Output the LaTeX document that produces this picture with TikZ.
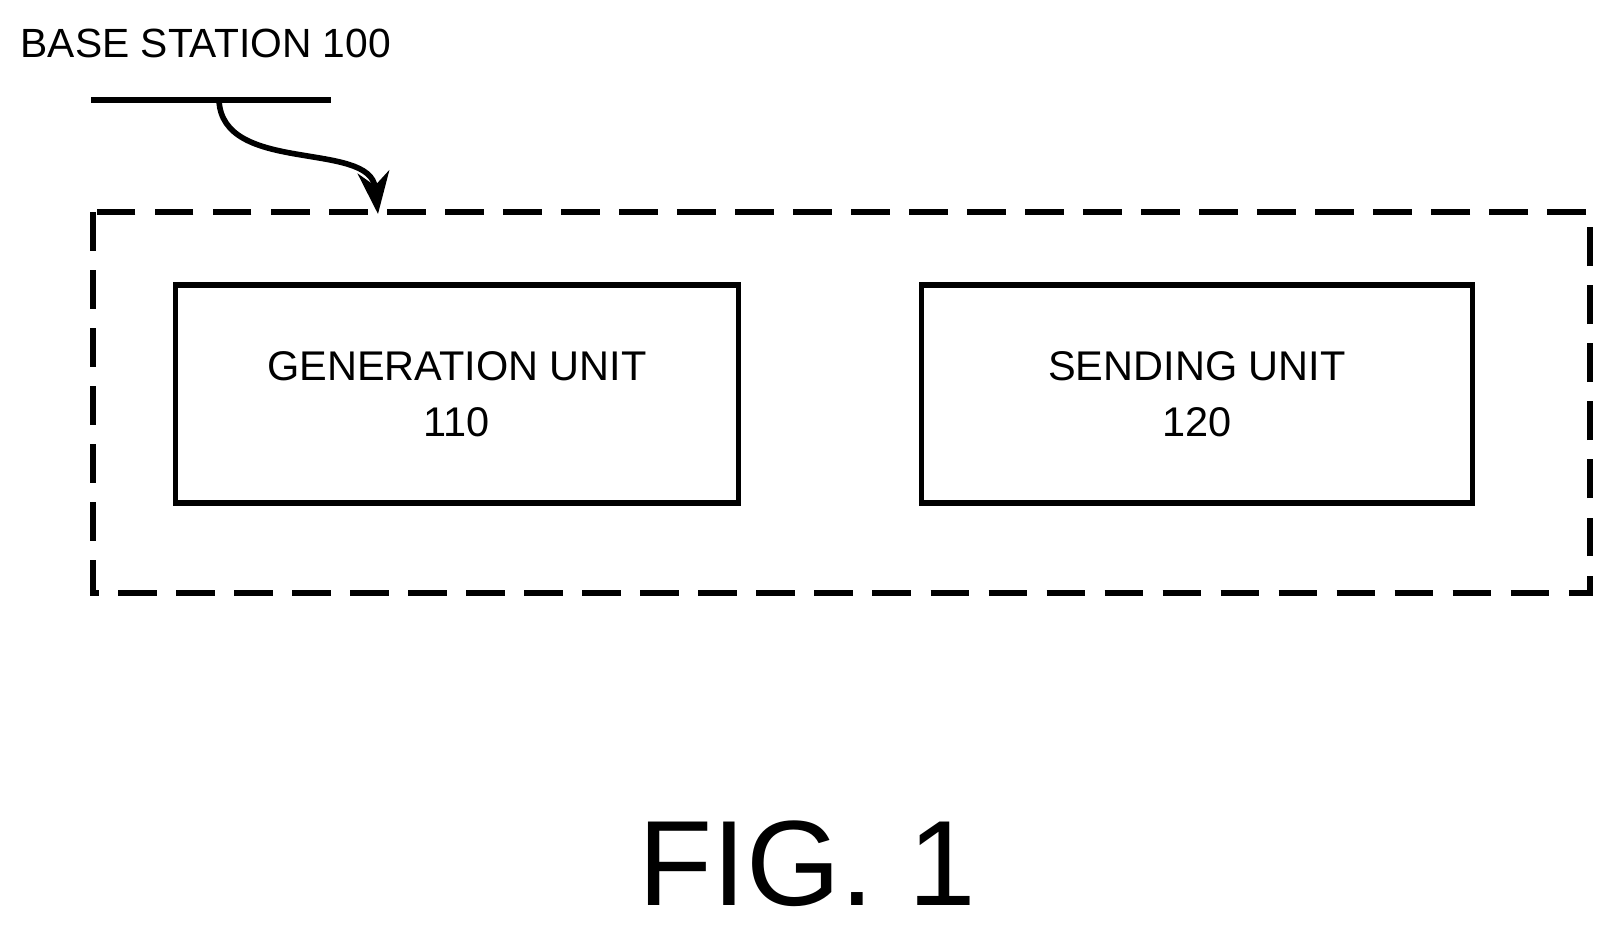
\documentclass[tikz,border=0pt]{standalone}
\usepackage{fontspec}
\setmainfont{Liberation Sans}
\usetikzlibrary{arrows.meta}
\begin{document}
\begin{tikzpicture}[x=0.01cm,y=-0.01cm,
  unit/.style={draw,line width=1.6pt,minimum height=218*0.01cm,align=center,font=\fontsize{11.8}{16}\selectfont},
  lbl/.style={font=\fontsize{11.6}{14}\selectfont}]
\useasboundingbox (0,0) rectangle (1614,942);
\draw[line width=1.6pt,dash pattern=on 11pt off 5.5pt] (93,212) rectangle (1590,593);
\node[unit,minimum width=563*0.01cm] (gen) at (457,394) {GENERATION UNIT\\110};
\node[unit,minimum width=551*0.01cm] (send) at (1197,394) {SENDING UNIT\\120};
\node[lbl,anchor=west,inner sep=0pt] (bs) at (20,43) {BASE STATION 100};
\coordinate (l1) at (91,100);
\coordinate (l2) at (331,100);
\coordinate (c0) at (219,100);
\coordinate (tip) at (378,214);
\draw[line width=1.6pt] (l1) -- (l2);
\draw[line width=1.6pt,-{Stealth[length=12pt,width=9pt]}] (c0) .. controls (222,175) and (370,140) .. (tip);
\node[font=\fontsize{34.5}{40}\selectfont] (fig) at (807,864) {FIG. 1};
\end{tikzpicture}
\end{document}
